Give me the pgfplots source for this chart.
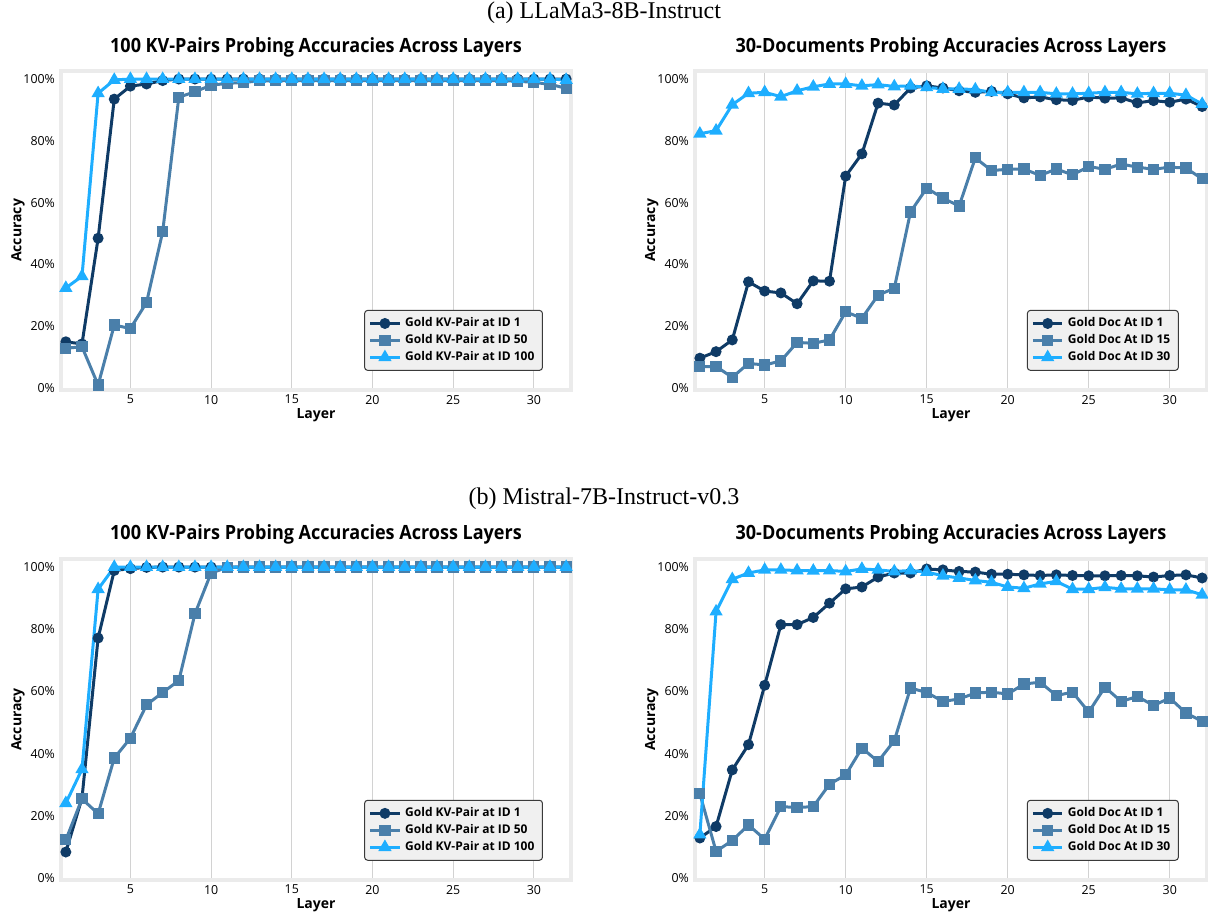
\documentclass[border=0pt]{standalone}
\usepackage{pgfplots}
\pgfplotsset{compat=1.18}
\usepackage{fontspec}
\setmainfont{Open Sans}
\newfontfamily\seriffont{Liberation Serif}
\newfontfamily\titlefont[FakeStretch=0.92]{Open Sans}
\definecolor{cdark}{HTML}{0F3B66}
\definecolor{cmid}{HTML}{4A7FAA}
\definecolor{clight}{HTML}{1EAEFF}
\definecolor{framegray}{HTML}{EBEBEB}
\definecolor{gridgray}{HTML}{D2D2D2}
\definecolor{legfill}{HTML}{F0F0F0}
\definecolor{legdraw}{HTML}{3A3A3A}

\pgfplotsset{
  panel/.style={
    scale only axis, width=255pt, height=159.5pt,
    xmin=0.7, xmax=32.3, ymin=-0.6, ymax=102.6,
    xtick={5,10,...,30}, ytick={0,20,...,100},
    /pgf/number format/assume math mode=true,
    yticklabel={\pgfmathprintnumber{\tick}\%},
    xmajorgrids, ymajorgrids=false,
    major grid style={draw=gridgray, line width=0.55pt},
    major tick length=0pt,
    axis line style={draw=framegray, line width=1.6pt},
    tick label style={font=\fontsize{6.2}{7}\selectfont, text=black},
    xtick align=inside, ytick align=inside,
    xticklabel style={yshift=1pt},
    yticklabel style={xshift=0.5pt},
    title style={at={(axis description cs:0.5,1.0815)}, anchor=center, yshift=-7pt, font=\titlefont\bfseries\fontsize{9.8}{11}\selectfont},
    xlabel style={at={(axis description cs:0.5,-0.078)}, anchor=center, font=\bfseries\fontsize{7}{8}\selectfont},
    ylabel style={at={(axis description cs:-0.0843,0.5)}, anchor=center, font=\bfseries\fontsize{7}{8}\selectfont},
    xlabel={Layer}, ylabel={Accuracy},
    legend style={at={(axis description cs:0.945,0.06)}, anchor=south east,
      fill=legfill, draw=legdraw, line width=0.5pt, rounded corners=1.5pt,
      font=\bfseries\fontsize{6}{7}\selectfont, row sep=-1.6pt,
      inner xsep=2pt, inner ysep=1.5pt},
    legend cell align=left,
    legend image code/.code={
      \draw[mark repeat=2,mark phase=2] plot coordinates {(0cm,0cm) (0.26cm,0cm) (0.52cm,0cm)};},
  },
  s1/.style={color=cdark, line width=1.5pt, mark=*, mark size=1.95pt, mark options={solid}},
  s2/.style={color=cmid, line width=1.5pt, mark=square*, mark size=2.05pt, mark options={solid}},
  s3/.style={color=clight, line width=1.5pt, mark=triangle*, mark size=2.35pt, mark options={solid}},
}

\begin{document}
\begin{tikzpicture}
\path[use as bounding box] (0,0) rectangle (604pt,458.5pt);
\node[font=\seriffont\fontsize{12}{13}\selectfont] at (302pt,452pt) {(a) LLaMa3-8B-Instruct};
\node[font=\seriffont\fontsize{12}{13}\selectfont] at (302pt,209pt) {(b) Mistral-7B-Instruct-v0.3};

% Top-left
\begin{axis}[panel, at={(30.5pt,263.5pt)}, anchor=south west,
  title={100 KV-Pairs Probing Accuracies Across Layers}]
\addplot[s1] coordinates {(1,15.0)(2,14.3)(3,48.5)(4,93.5)(5,97.7)(6,98.4)(7,99.5)(8,100)(9,100)(10,100)(11,100)(12,100)(13,100)(14,100)(15,100)(16,100)(17,100)(18,100)(19,100)(20,100)(21,100)(22,100)(23,100)(24,100)(25,100)(26,100)(27,100)(28,100)(29,100)(30,100)(31,100)(32,100)};
\addlegendentry{Gold KV-Pair at ID 1}
\addplot[s2] coordinates {(1,12.9)(2,13.4)(3,1.0)(4,20.4)(5,19.3)(6,27.7)(7,50.6)(8,94.1)(9,95.9)(10,98.0)(11,98.6)(12,98.9)(13,99.4)(14,99.4)(15,99.5)(16,99.5)(17,99.5)(18,99.5)(19,99.5)(20,99.5)(21,99.5)(22,99.5)(23,99.5)(24,99.5)(25,99.5)(26,99.5)(27,99.5)(28,99.5)(29,99.3)(30,98.9)(31,98.3)(32,97.0)};
\addlegendentry{Gold KV-Pair at ID 50}
\addplot[s3] coordinates {(1,32.4)(2,36.2)(3,95.4)(4,99.7)(5,100)(6,100)(7,100)(8,100)(9,100)(10,100)(11,100)(12,100)(13,100)(14,100)(15,100)(16,100)(17,100)(18,100)(19,100)(20,100)(21,100)(22,100)(23,100)(24,100)(25,100)(26,100)(27,100)(28,100)(29,100)(30,100)(31,100)(32,99.7)};
\addlegendentry{Gold KV-Pair at ID 100}
\end{axis}

% Top-right
\begin{axis}[panel, at={(347.5pt,263.5pt)}, anchor=south west, width=256pt,
  title={30-Documents Probing Accuracies Across Layers}]
\addplot[s1] coordinates {(1,9.7)(2,11.8)(3,15.6)(4,34.4)(5,31.4)(6,30.8)(7,27.3)(8,34.7)(9,34.6)(10,68.6)(11,75.8)(12,92.2)(13,91.6)(14,97.1)(15,97.8)(16,97.1)(17,96.2)(18,95.7)(19,96.0)(20,95.2)(21,93.9)(22,94.2)(23,93.3)(24,93.1)(25,94.2)(26,93.8)(27,93.9)(28,92.3)(29,93.0)(30,92.5)(31,93.5)(32,91.1)};
\addlegendentry{Gold Doc At ID 1}
\addplot[s2] coordinates {(1,7.0)(2,7.0)(3,3.5)(4,8.0)(5,7.5)(6,8.8)(7,14.8)(8,14.5)(9,15.6)(10,24.7)(11,22.6)(12,30.1)(13,32.3)(14,57.0)(15,64.7)(16,61.5)(17,58.9)(18,74.5)(19,70.4)(20,70.8)(21,70.9)(22,68.8)(23,70.9)(24,69.0)(25,71.7)(26,70.8)(27,72.5)(28,71.5)(29,70.8)(30,71.5)(31,71.2)(32,67.7)};
\addlegendentry{Gold Doc At ID 15}
\addplot[s3] coordinates {(1,82.3)(2,83.3)(3,91.7)(4,95.4)(5,95.7)(6,94.3)(7,96.2)(8,97.5)(9,98.4)(10,98.4)(11,97.8)(12,98.2)(13,97.6)(14,97.8)(15,97.3)(16,96.8)(17,96.8)(18,96.6)(19,95.7)(20,95.7)(21,95.7)(22,95.7)(23,95.2)(24,95.2)(25,95.4)(26,95.7)(27,95.7)(28,95.2)(29,95.4)(30,95.4)(31,94.8)(32,91.9)};
\addlegendentry{Gold Doc At ID 30}
\end{axis}

% Bottom-left
\begin{axis}[panel, at={(30.5pt,18.5pt)}, anchor=south west, height=160.5pt,
  title={100 KV-Pairs Probing Accuracies Across Layers}]
\addplot[s1] coordinates {(1,8.4)(2,25.7)(3,77.2)(4,98.9)(5,99.5)(6,99.9)(7,100)(8,100)(9,100)(10,100)(11,100)(12,100)(13,100)(14,100)(15,100)(16,100)(17,100)(18,100)(19,100)(20,100)(21,100)(22,100)(23,100)(24,100)(25,100)(26,100)(27,100)(28,100)(29,100)(30,100)(31,100)(32,100)};
\addlegendentry{Gold KV-Pair at ID 1}
\addplot[s2] coordinates {(1,12.3)(2,25.5)(3,20.7)(4,38.6)(5,45.0)(6,55.7)(7,59.7)(8,63.5)(9,85.0)(10,98.1)(11,99.9)(12,100)(13,100)(14,100)(15,100)(16,100)(17,100)(18,100)(19,100)(20,100)(21,100)(22,100)(23,100)(24,100)(25,100)(26,100)(27,100)(28,100)(29,100)(30,100)(31,100)(32,100)};
\addlegendentry{Gold KV-Pair at ID 50}
\addplot[s3] coordinates {(1,24.1)(2,35.0)(3,92.9)(4,100)(5,100)(6,100)(7,100)(8,100)(9,100)(10,100)(11,100)(12,100)(13,100)(14,100)(15,100)(16,100)(17,100)(18,100)(19,100)(20,100)(21,100)(22,100)(23,100)(24,100)(25,100)(26,100)(27,100)(28,100)(29,100)(30,100)(31,100)(32,100)};
\addlegendentry{Gold KV-Pair at ID 100}
\end{axis}

% Bottom-right
\begin{axis}[panel, at={(347.5pt,18.5pt)}, anchor=south west, width=256pt, height=160.5pt,
  title={30-Documents Probing Accuracies Across Layers}]
\addplot[s1] coordinates {(1,12.9)(2,16.6)(3,34.8)(4,42.9)(5,62.0)(6,81.5)(7,81.5)(8,83.8)(9,88.4)(10,93.0)(11,93.6)(12,96.8)(13,98.1)(14,98.1)(15,99.4)(16,99.1)(17,98.6)(18,98.4)(19,97.7)(20,97.7)(21,97.5)(22,97.3)(23,97.5)(24,97.3)(25,97.2)(26,97.2)(27,97.3)(28,97.2)(29,96.8)(30,97.3)(31,97.5)(32,96.5)};
\addlegendentry{Gold Doc At ID 1}
\addplot[s2] coordinates {(1,27.1)(2,8.6)(3,12.1)(4,17.1)(5,12.5)(6,23.0)(7,22.7)(8,23.0)(9,30.2)(10,33.2)(11,41.8)(12,37.5)(13,44.2)(14,61.1)(15,59.7)(16,56.8)(17,57.6)(18,59.5)(19,59.8)(20,59.2)(21,62.4)(22,63.0)(23,58.7)(24,59.8)(25,53.4)(26,61.4)(27,56.8)(28,58.4)(29,55.5)(30,57.9)(31,53.1)(32,50.4)};
\addlegendentry{Gold Doc At ID 15}
\addplot[s3] coordinates {(1,14.0)(2,85.7)(3,96.1)(4,98.1)(5,99.1)(6,99.1)(7,98.9)(8,98.8)(9,98.9)(10,98.6)(11,99.4)(12,99.1)(13,98.6)(14,98.9)(15,98.4)(16,97.2)(17,96.5)(18,95.7)(19,95.1)(20,93.6)(21,93.2)(22,94.6)(23,95.4)(24,92.9)(25,92.9)(26,93.5)(27,93.0)(28,93.0)(29,93.0)(30,92.7)(31,92.7)(32,91.1)};
\addlegendentry{Gold Doc At ID 30}
\end{axis}
\end{tikzpicture}
\end{document}
